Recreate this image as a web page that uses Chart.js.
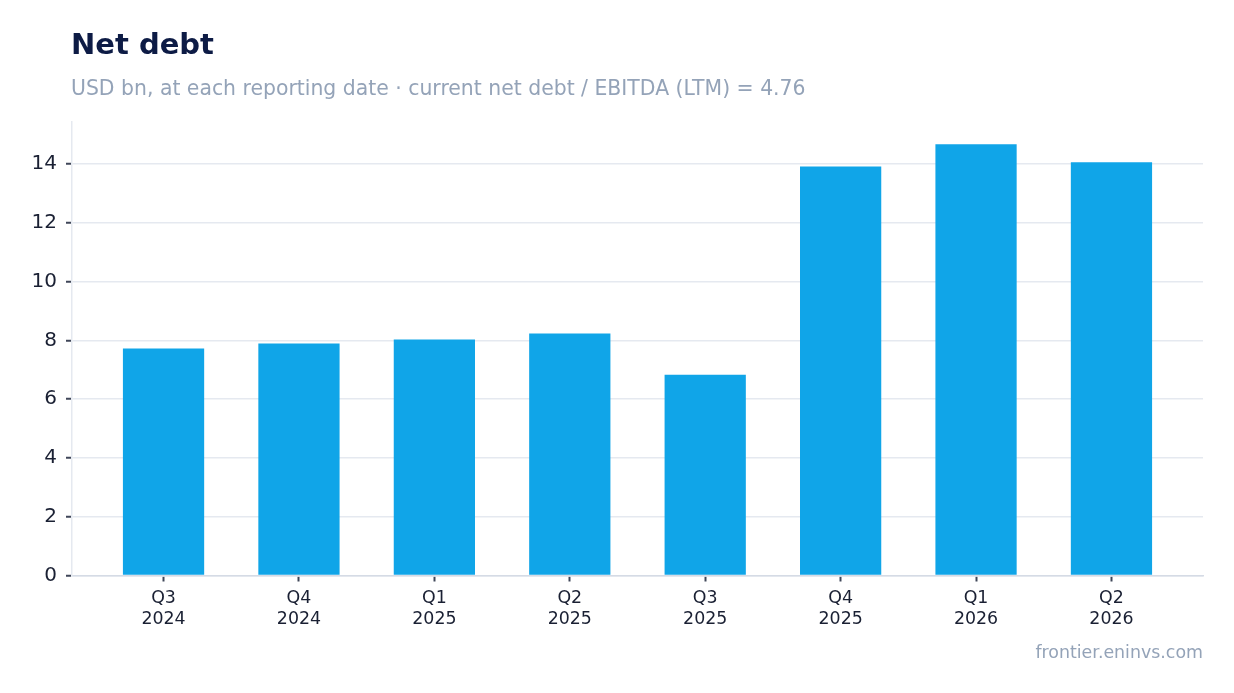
<!DOCTYPE html>
<html>
<head>
<meta charset="utf-8">
<script src="https://cdn.jsdelivr.net/npm/chart.js@4.4.1/dist/chart.umd.min.js"></script>
<style>
  html, body { margin:0; padding:0; background:#ffffff; font-family: "DejaVu Sans"; }
  #wrap { position:relative; width:1234px; height:693px; }
  canvas { display:block; }
</style>
</head>
<body>
<div id="wrap"><canvas id="c" width="1234" height="693"></canvas></div>
<script>
const quarters = ["Q3","Q4","Q1","Q2","Q3","Q4","Q1","Q2"];
const years = ["2024","2024","2025","2025","2025","2025","2026","2026"];
const netDebt = [7.72, 7.89, 8.03, 8.23, 6.83, 13.92, 14.67, 14.06];
const yTicks = [0, 2, 4, 6, 8, 10, 12, 14];

const titleText = "Net debt";
const subtitleText = "USD bn, at each reporting date \u00b7 current net debt / EBITDA (LTM) = 4.76";
const footerText = "frontier.eninvs.com";

const FONT = '"DejaVu Sans", Verdana, sans-serif';

const textPlugin = {
  id: 'texts',
  afterDraw(chart) {
    const ctx = chart.ctx;
    ctx.save();
    ctx.textBaseline = 'alphabetic';
    ctx.textAlign = 'left';
    ctx.fillStyle = '#0d1b45';
    ctx.font = "bold 29px " + FONT;
    ctx.fillText(titleText, 71, 54);
    ctx.fillStyle = '#94a3b8';
    ctx.font = "20.4px " + FONT;
    ctx.fillText(subtitleText, 71, 95);
    ctx.textAlign = 'right';
    ctx.font = "17.4px " + FONT;
    ctx.fillText(footerText, 1203, 658);
    ctx.restore();
  }
};

function build() {
  Chart.defaults.font.family = FONT;
  const points = netDebt.map((v, i) => ({ x: i, y: v }));
  new Chart(document.getElementById('c'), {
    type: 'bar',
    data: {
      datasets: [{
        data: points,
        backgroundColor: '#10a5e8',
        borderWidth: 0,
        categoryPercentage: 0.6,
        barPercentage: 1.0
      }]
    },
    plugins: [textPlugin],
    options: {
      responsive: false,
      animation: false,
      devicePixelRatio: 1,
      layout: { padding: { top: 122, right: 31, left: 0, bottom: 0 } },
      plugins: { legend: { display: false }, tooltip: { enabled: false }, title: { display: false } },
      scales: {
        x: {
          type: 'linear',
          min: -0.676,
          max: 7.676,
          offset: false,
          afterBuildTicks(scale) { scale.ticks = quarters.map((q, i) => ({ value: i })); },
          afterFit(scale) { scale.height = 117.5; },
          ticks: {
            autoSkip: false,
            maxRotation: 0,
            padding: 7,
            color: '#1a2033',
            font: { family: FONT, size: 17.4, lineHeight: 1.2 },
            callback: (v) => [quarters[v], years[v]]
          },
          grid: { display: true, offset: false, drawOnChartArea: false, drawTicks: true, tickLength: 6, tickColor: '#3f4658', tickWidth: 2 },
          border: { display: true, color: '#d5dbe5', width: 1.5 }
        },
        y: {
          min: 0,
          max: 15.43,
          afterBuildTicks(scale) { scale.ticks = yTicks.map(v => ({ value: v })); },
          afterFit(scale) { scale.width = 72; },
          ticks: {
            padding: 9,
            color: '#1a2033',
            font: { family: FONT, size: 20 }
          },
          grid: { color: '#e5e9f0', lineWidth: 1.5, tickLength: 6, tickColor: '#3f4658', tickWidth: 2 },
          border: { display: true, color: '#e5e9f0', width: 1.5 }
        }
      }
    }
  });
}

Promise.all([
  document.fonts.load('16px "DejaVu Sans"'),
  document.fonts.load('bold 27px "DejaVu Sans"')
]).then(build, build);
</script>
</body>
</html>
